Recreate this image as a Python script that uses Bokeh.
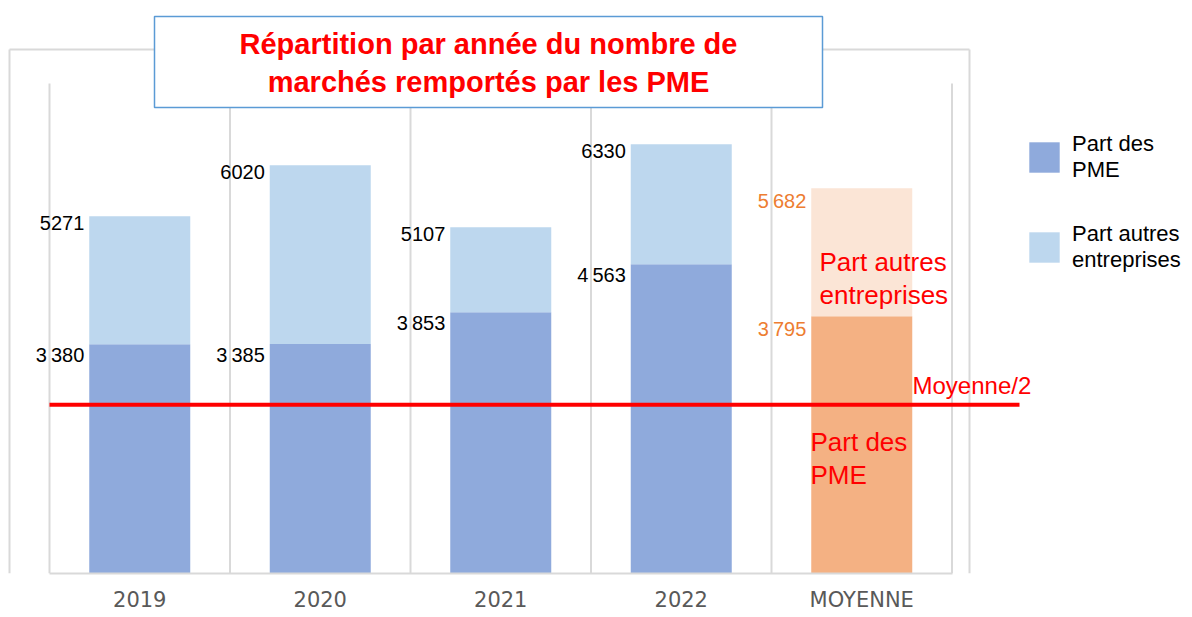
from bokeh.plotting import figure
from bokeh.models import ColumnDataSource, Range1d, LinearAxis, FixedTicker, Legend, LegendItem
from bokeh.embed import file_html
from bokeh.resources import INLINE
from bokeh.core.properties import value

# ---------------- data ----------------
categories = ["2019", "2020", "2021", "2022", "MOYENNE"]
part_pme = [3380, 3385, 3853, 4563, 3795]
total = [5271, 6020, 5107, 6330, 5682]
pme_labels = ["3\u202f380", "3\u202f385", "3\u202f853", "4\u202f563", "3\u202f795"]
total_labels = ["5271", "6020", "5107", "6330", "5\u202f682"]
moyenne_demi = 2490
title_text = "Répartition par année du nombre de\nmarchés remportés par les PME"
legend_labels = ["Part des\nPME", "Part autres\nentreprises"]
part_autres = [t - p for t, p in zip(total, part_pme)]

# ---------------- layout helpers (canvas pixels -> data) ----------------
FONT = "Liberation Sans"
W, H = 1192, 617
PX_PER_CAT = 180.5
X_CENTER0 = 139.25
BASE_Y = 573
PX_PER_UNIT = 0.0678


def dx(px):
    return (px - X_CENTER0) / PX_PER_CAT


def dy(py):
    return (BASE_Y - py) / PX_PER_UNIT


BAR_W = 101 / PX_PER_CAT

n = len(categories)
xs = list(range(n))
yr = ColumnDataSource(dict(x=xs[:4], pme=part_pme[:4], autres=part_autres[:4], total=total[:4],
                           pme_lab=pme_labels[:4], total_lab=total_labels[:4]))
mo = ColumnDataSource(dict(x=xs[4:], pme=part_pme[4:], autres=part_autres[4:], total=total[4:],
                           pme_lab=pme_labels[4:], total_lab=total_labels[4:]))

p = figure(width=W, height=H, x_range=Range1d(dx(0), dx(W)), y_range=Range1d(0, dy(0)),
           output_backend="svg", toolbar_location=None, x_axis_location=None, y_axis_location=None,
           min_border=0, min_border_bottom=H - BASE_Y)
p.outline_line_color = None
p.background_fill_color = "white"
p.grid.visible = False
for g in p.xgrid + p.ygrid:
    g.visible = False

# category axis
xaxis = LinearAxis(ticker=FixedTicker(ticks=xs),
                   major_label_overrides={i: c for i, c in enumerate(categories)},
                   bounds=(-0.5, n - 0.5))
xaxis.axis_line_color = "#D9D9D9"
xaxis.axis_line_width = 2
xaxis.major_tick_line_color = None
xaxis.minor_tick_line_color = None
xaxis.major_tick_in = 0
xaxis.major_tick_out = 0
xaxis.major_label_standoff = 14
xaxis.major_label_text_font = "DejaVu Sans"
xaxis.major_label_text_font_size = "21px"
xaxis.major_label_text_color = "#595959"
p.add_layout(xaxis, "below")

# outer frame lines
p.segment(x0=[dx(9), dx(9), dx(969)], y0=[dy(49), 0, 0], x1=[dx(969), dx(9), dx(969)],
          y1=[dy(49), dy(49), dy(49)], line_color="#D9D9D9", line_width=2)

# vertical separators
bounds = [i - 0.5 for i in range(n + 1)]
p.segment(x0=bounds, y0=[0] * len(bounds), x1=bounds, y1=[dy(83)] * len(bounds),
          line_color="#D9D9D9", line_width=2)

# bars
r_years = p.vbar_stack(["pme", "autres"], x="x", width=BAR_W, source=yr,
                       fill_color=["#8FAADC", "#BDD7EE"], line_color=None)
p.vbar_stack(["pme", "autres"], x="x", width=BAR_W, source=mo,
             fill_color=["#F4B183", "#FBE5D6"], line_color=None)

# value labels
off = -(101 / 2 + 5)
for src, col, yoff in ((yr, "black", 0), (mo, "#ED7D31", 2)):
    p.text(x="x", y="total", text="total_lab", source=src, x_offset=off, y_offset=yoff,
           text_align="right", text_baseline="top", text_color=col,
           text_font=value(FONT), text_font_size="20px")
    p.text(x="x", y="pme", text="pme_lab", source=src, x_offset=off, y_offset=yoff,
           text_align="right", text_baseline="top", text_color=col,
           text_font=value(FONT), text_font_size="20px")

# Moyenne/2 line
p.segment(x0=[-0.5], y0=[moyenne_demi], x1=[dx(1019)], y1=[moyenne_demi], line_color="#FF0000", line_width=4)
p.text(x=[dx(912)], y=[dy(371)], text=["Moyenne/2"], text_align="left",
       text_baseline="top", text_color="#FF0000", text_font=value(FONT), text_font_size="24px")

# annotations inside Moyenne bar
p.text(x=[dx(819)], y=[dy(246)], text=["Part autres\nentreprises"], text_align="left", text_baseline="top",
       text_color="#FF0000", text_font=value(FONT), text_font_size="26px", text_line_height=1.12)
p.text(x=[dx(810)], y=[dy(426)], text=["Part des\nPME"], text_align="left", text_baseline="top",
       text_color="#FF0000", text_font=value(FONT), text_font_size="26px", text_line_height=1.12)

# title box
p.quad(left=[dx(154)], right=[dx(822)], top=[dy(16)], bottom=[dy(107)], fill_color="white",
       line_color="#5B9BD5", line_width=1.5)
p.text(x=[dx(488)], y=[dy(27)], text=[title_text], text_align="center", text_baseline="top",
       text_color="#FF0000", text_font=value(FONT), text_font_size="29px", text_font_style="bold",
       text_line_height=1.2)

# legend
legend = Legend(items=[LegendItem(label=legend_labels[0], renderers=[r_years[0]]),
                       LegendItem(label=legend_labels[1], renderers=[r_years[1]])],
                location=(1025, 300), orientation="vertical")
legend.border_line_color = None
legend.background_fill_alpha = 0
legend.padding = 0
legend.margin = 0
legend.spacing = 38
legend.glyph_width = 38
legend.glyph_height = 38
legend.label_standoff = 9
legend.label_text_font = FONT
legend.label_text_font_size = "22px"
legend.label_text_line_height = 1.12
legend.label_text_color = "black"
p.add_layout(legend)

open("out.html", "w").write(file_html(p, INLINE))
